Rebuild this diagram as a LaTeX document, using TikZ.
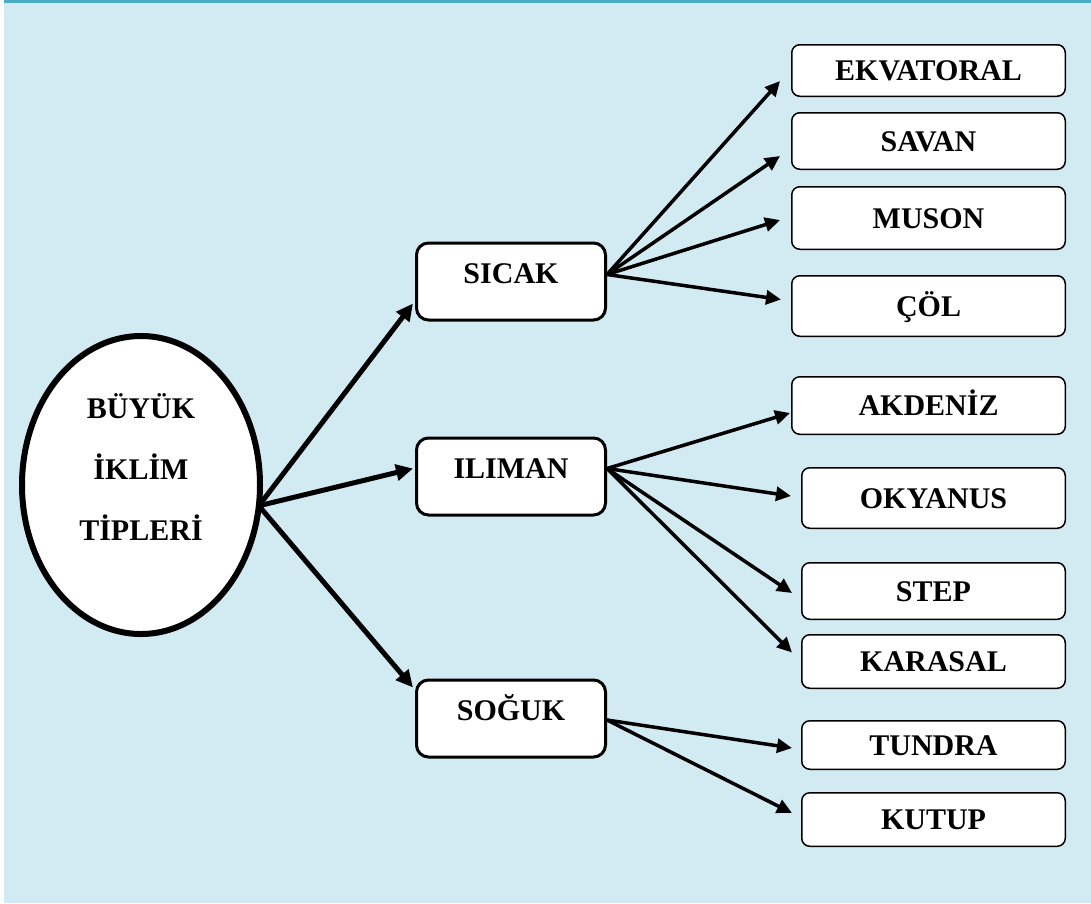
\documentclass[tikz,border=0pt]{standalone}
\usepackage{fontspec}
\setmainfont{Liberation Serif}
\usetikzlibrary{arrows.meta,shapes.geometric}
\definecolor{bgblue}{RGB}{210,234,241}
\definecolor{topline}{RGB}{75,172,198}
\begin{document}
\begin{tikzpicture}[x=1pt,y=-1pt,
  every node/.style={font=\fontsize{30}{61}\selectfont\bfseries},
  mid/.style={draw, line width=3pt, rounded corners=12pt, fill=white, minimum width=189pt,
    text height=40pt, text depth=37pt, inner sep=0pt, anchor=base},
  leaf/.style={draw, line width=1.5pt, rounded corners=8pt, fill=white, inner sep=0pt,
    text height=20pt, text depth=0pt},
  leafA/.style={leaf, minimum width=273.5pt},
  leafB/.style={leaf, minimum width=263.5pt},
  bigarrow/.style={line width=5pt, -{Triangle[length=17pt,width=16pt]}},
  arr/.style={line width=3.5pt, -{Triangle[length=15pt,width=14pt]}}
]
\useasboundingbox (0,0) rectangle (1091,903);
\fill[white] (0,0) rectangle (1091,903);
\fill[bgblue] (4,0) rectangle (1091,903);
\fill[topline] (4,0) rectangle (1091,2.5);

% central ellipse
\node[ellipse, draw, line width=6pt, fill=white, minimum width=238pt, minimum height=298pt,
  inner sep=0pt, outer sep=0pt, align=center, text depth=35pt] (ell) at (141,485)
  {BÜYÜK\\İKLİM\\TİPLERİ};

% middle boxes
\node[mid] (sicak)  at (511,283) {SICAK};
\node[mid] (iliman) at (511,478) {ILIMAN};
\node[mid] (soguk)  at (511,720) {SOĞUK};

% leaf boxes
\node[leafA, minimum height=51.5pt] (ekv)   at (928.5,70.5)  {EKVATORAL};
\node[leafA, minimum height=56.5pt] (savan) at (928.5,141)   {SAVAN};
\node[leafA, minimum height=62.5pt] (muson) at (928.5,218)   {MUSON};
\node[leafA, minimum height=60.5pt] (col)   at (928.5,306)   {ÇÖL};
\node[leafA, minimum height=57.5pt] (akd)   at (928.5,405.5) {AKDENİZ};
\node[leafB, minimum height=60.5pt] (oky)   at (933.5,498)   {OKYANUS};
\node[leafB, minimum height=56.5pt] (step1) at (933.5,591)   {STEP};
\node[leafB, minimum height=53.5pt] (kar)   at (933.5,661.5) {KARASAL};
\node[leafB, minimum height=48.5pt] (tun)   at (933.5,745)   {TUNDRA};
\node[leafB, minimum height=53.5pt] (kut)   at (933.5,819.5) {KUTUP};

% arrows from ellipse
\draw[bigarrow] (ell.-10.6) -- ([xshift=-2pt,yshift=-22pt]sicak.west);
\draw[bigarrow] (ell.-10.6) -- ([xshift=-2pt,yshift=8pt]iliman.west);
\draw[bigarrow] (ell.-10.6) -- ([xshift=-2pt,yshift=31pt]soguk.west);

% arrows from SICAK
\draw[arr] ([yshift=7pt]sicak.east) -- ([xshift=-11pt,yshift=-10.5pt]ekv.west);
\draw[arr] ([yshift=7pt]sicak.east) -- ([xshift=-11pt,yshift=-15pt]savan.west);
\draw[arr] ([yshift=7pt]sicak.east) -- ([xshift=-11pt,yshift=-2pt]muson.west);
\draw[arr] ([yshift=7pt]sicak.east) -- ([xshift=-10pt,yshift=6.5pt]col.west);

% arrows from ILIMAN
\draw[arr] ([yshift=8pt]iliman.east) -- ([xshift=-1pt,yshift=-7.5pt]akd.west);
\draw[arr] ([yshift=8pt]iliman.east) -- ([xshift=-10pt,yshift=2pt]oky.west);
\draw[arr] ([yshift=8pt]iliman.east) -- ([xshift=-9pt,yshift=-2pt]step1.west);
\draw[arr] ([yshift=8pt]iliman.east) -- ([xshift=-9pt,yshift=9pt]kar.west);

% arrows from SOĞUK
\draw[arr] ([yshift=-1.5pt]soguk.east) -- ([xshift=-9pt,yshift=-3pt]tun.west);
\draw[arr] ([yshift=-1.5pt]soguk.east) -- ([xshift=-9pt,yshift=6.5pt]kut.west);
\end{tikzpicture}
\end{document}
